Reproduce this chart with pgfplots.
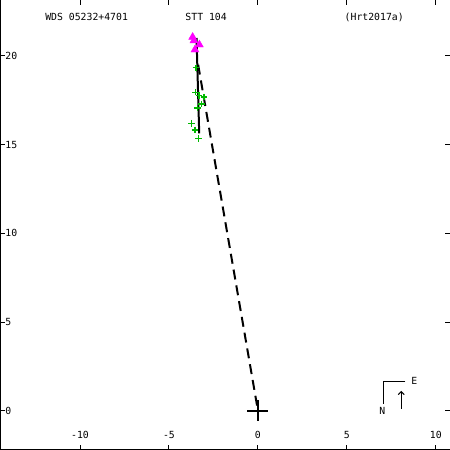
\documentclass[border=0pt]{standalone}
\usepackage{fontspec}
\setmainfont{DejaVu Sans Mono}
\usepackage{pgfplots}
\pgfplotsset{compat=1.18}
\usetikzlibrary{arrows.meta}
\definecolor{ptgreen}{RGB}{0,185,0}
\definecolor{ptmag}{RGB}{255,0,255}
\begin{document}
\fontsize{9.8bp}{11bp}\selectfont
\begin{tikzpicture}
\begin{axis}[
 width=450bp, height=450bp, scale only axis,
 xmin=-14.50, xmax=10.80, ymin=-2.20, ymax=23.14,
 axis line style={draw=none},
 xtick={-10,-5,0,5,10}, ytick={0,5,10,15,20},
 tick align=inside, major tick length=5bp,
 tick style={black, line width=1bp},
 /pgf/number format/assume math mode=true,
 tick label style={font=\fontsize{9.8bp}{11bp}\selectfont},
 xticklabel style={anchor=south, yshift=8bp},
 yticklabel style={anchor=west, xshift=2bp},
 clip=false,
]
\draw[line width=2bp] (rel axis cs:0,1) -- (rel axis cs:0,0) -- (rel axis cs:1,0);
% magenta triangles
\addplot[only marks, mark=triangle*, mark size=4.6bp, ptmag, mark options={fill=ptmag, draw=ptmag}]
 coordinates {(-3.67,21.05) (-3.60,20.85) (-3.29,20.62) (-3.54,20.34)};
% green plus
\addplot[only marks, mark=+, mark size=3.3bp, ptgreen, line width=1.3bp]
 coordinates {(-3.48,19.32) (-3.50,17.95) (-3.31,17.76) (-3.03,17.67) (-3.16,17.29)
 (-3.41,17.06) (-3.72,16.20) (-3.54,15.82) (-3.35,15.35)};
% solid line
\addplot[black, line width=2bp] coordinates {(-3.45,21.0) (-3.30,15.63)};
% dashed line
\addplot[black, line width=2bp, dash pattern=on 10bp off 6bp] coordinates {(-3.36,19.5) (-0.03,0.2)};
% origin
\addplot[only marks, mark=+, mark size=10.5bp, black, line width=2bp] coordinates {(0,0)};
% titles
\node at (axis cs:-9.63,22.18) {WDS 05232+4701};
\node at (axis cs:-2.91,22.18) {STT 104};
\node at (axis cs:6.54,22.18) {(Hrt2017a)};
% compass
\draw[line width=1bp] (axis cs:8.29,1.64) -- (axis cs:7.05,1.64) -- (axis cs:7.05,0.40);
\node at (axis cs:8.80,1.69) {E};
\node at (axis cs:6.99,0.0) {N};
\draw[line width=1bp, -{Straight Barb[length=3bp,width=6bp]}] (axis cs:8.06,0.12) -- (axis cs:8.06,1.13);
\end{axis}
\pgfresetboundingbox
\useasboundingbox (current axis.south west) rectangle (current axis.north east);
\end{tikzpicture}
\end{document}
